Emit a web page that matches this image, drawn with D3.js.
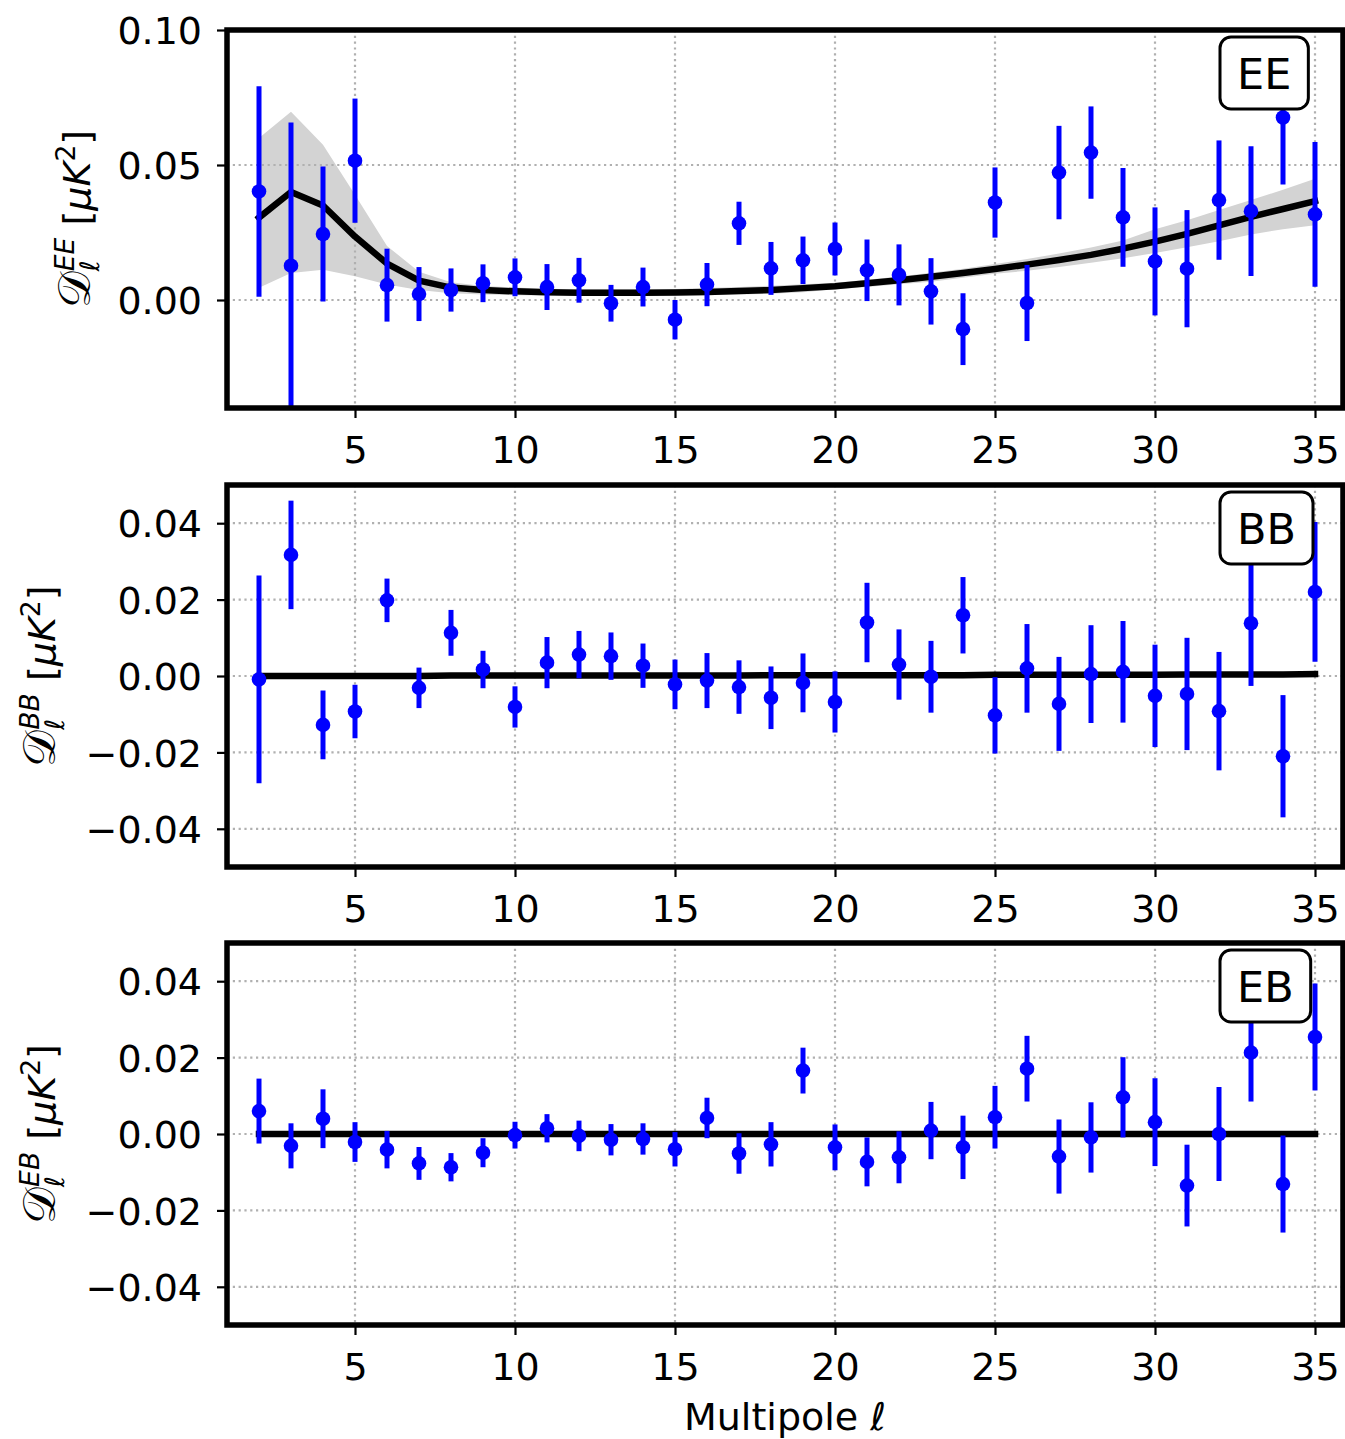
<!DOCTYPE html>
<html>
<head>
<meta charset="utf-8">
<script src="https://cdn.jsdelivr.net/npm/d3@7"></script>
<style>
  body { margin: 0; background: #fff; }
  svg { display: block; font-family: "DejaVu Sans", sans-serif; }
</style>
</head>
<body>
<div id="chart"></div>
<script>
// Multipole values
const ell = [2, 3, 4, 5, 6, 7, 8, 9, 10, 11, 12, 13, 14, 15, 16, 17, 18,
  19, 20, 21, 22, 23, 24, 25, 26, 27, 28, 29, 30, 31, 32, 33, 34, 35];

// EE measurements
const eeVal = [0.0402, 0.0127, 0.0244, 0.0516, 0.0055, 0.0022, 0.0037, 0.0062, 0.0084, 0.0048, 0.0073, -0.0012, 0.0048, -0.0073, 0.0057, 0.0284, 0.0117,
  0.0147, 0.0189, 0.0110, 0.0093, 0.0032, -0.0108, 0.0361, -0.0011, 0.0472, 0.0546, 0.0306, 0.0143, 0.0116, 0.0370, 0.0329, 0.0676, 0.0317];
const eeErr = [0.039, 0.053, 0.025, 0.023, 0.0135, 0.010, 0.008, 0.007, 0.007, 0.0085, 0.0083, 0.0068, 0.0072, 0.0073, 0.008, 0.008, 0.0098,
  0.0088, 0.0098, 0.0114, 0.0113, 0.0123, 0.0133, 0.013, 0.0141, 0.0173, 0.0171, 0.0183, 0.020, 0.0217, 0.0221, 0.024, 0.0248, 0.0268];
// EE model and its spread
const eeModel = [0.0305, 0.0400, 0.0350, 0.0235, 0.0135, 0.0072, 0.0046, 0.0037, 0.0032, 0.0029, 0.0027, 0.0027, 0.0027, 0.0028, 0.0030, 0.0033, 0.0037,
  0.0044, 0.0051, 0.0062, 0.0073, 0.0086, 0.0100, 0.0115, 0.0131, 0.0148, 0.0167, 0.0190, 0.0216, 0.0245, 0.0276, 0.0308, 0.0337, 0.0366];
const eeHigh = [0.060, 0.0697, 0.0575, 0.039, 0.020, 0.0105, 0.0066, 0.0052, 0.0046, 0.0042, 0.0040, 0.0040, 0.0040, 0.0041, 0.0044, 0.0048, 0.0053,
  0.0058, 0.0064, 0.0075, 0.0087, 0.0101, 0.0116, 0.0133, 0.0152, 0.0172, 0.0194, 0.0220, 0.0262, 0.0295, 0.0333, 0.0370, 0.0408, 0.0449];
const eeLow = [0.0045, 0.010, 0.0112, 0.0088, 0.0057, 0.0037, 0.0025, 0.0020, 0.0018, 0.0017, 0.0016, 0.0016, 0.0016, 0.0017, 0.0018, 0.0020, 0.0023,
  0.0029, 0.0040, 0.0048, 0.0058, 0.0068, 0.0082, 0.0097, 0.0108, 0.0122, 0.0138, 0.0155, 0.0174, 0.0195, 0.0218, 0.0243, 0.0262, 0.0277];

// BB measurements
const bbVal = [-0.0009, 0.0317, -0.0128, -0.0093, 0.0198, -0.0031, 0.0113, 0.0017, -0.0081, 0.0035, 0.0056, 0.0052, 0.0027, -0.0022, -0.0012, -0.0029, -0.0057,
  -0.0018, -0.0068, 0.0140, 0.0030, -0.0002, 0.0159, -0.0103, 0.0020, -0.0073, 0.0005, 0.0011, -0.0052, -0.0047, -0.0092, 0.0138, -0.0210, 0.0220];
const bbErr = [0.0272, 0.0142, 0.009, 0.007, 0.0057, 0.0053, 0.006, 0.0049, 0.0054, 0.0067, 0.0062, 0.0062, 0.0058, 0.0065, 0.0072, 0.007, 0.0082,
  0.0077, 0.008, 0.0104, 0.0092, 0.0094, 0.010, 0.010, 0.0116, 0.0123, 0.0128, 0.0133, 0.0134, 0.0147, 0.0155, 0.0164, 0.016, 0.0183];
const bbModel = [0.0000, 0.0000, 0.0000, 0.0000, 0.0000, 0.0000, 0.0001, 0.0001, 0.0001, 0.0001, 0.0001, 0.0001, 0.0001, 0.0001, 0.0001, 0.0001, 0.0002,
  0.0002, 0.0002, 0.0002, 0.0002, 0.0002, 0.0002, 0.0003, 0.0003, 0.0003, 0.0003, 0.0003, 0.0003, 0.0004, 0.0004, 0.0004, 0.0004, 0.0005];

// EB measurements
const ebVal = [0.0060, -0.0031, 0.0040, -0.0021, -0.0041, -0.0077, -0.0087, -0.0049, -0.0003, 0.0015, -0.0005, -0.0015, -0.0013, -0.0040, 0.0042, -0.0051, -0.0027,
  0.0166, -0.0035, -0.0073, -0.0061, 0.0009, -0.0035, 0.0044, 0.0171, -0.0059, -0.0009, 0.0096, 0.0031, -0.0135, 0.0000, 0.0213, -0.0131, 0.0254];
const ebErr = [0.0085, 0.0059, 0.0077, 0.0052, 0.0049, 0.0043, 0.0037, 0.0038, 0.0035, 0.0037, 0.004, 0.0041, 0.0041, 0.0045, 0.0053, 0.0053, 0.0058,
  0.006, 0.006, 0.0064, 0.0068, 0.0075, 0.0083, 0.0082, 0.0086, 0.0097, 0.0092, 0.0105, 0.0115, 0.0107, 0.0123, 0.0128, 0.0127, 0.014];
const ebModel = [0, 0, 0, 0, 0, 0, 0, 0, 0, 0, 0, 0, 0, 0, 0, 0, 0,
  0, 0, 0, 0, 0, 0, 0, 0, 0, 0, 0, 0, 0, 0, 0, 0, 0];

const xTicks = [5, 10, 15, 20, 25, 30, 35];
const eeTicks = [0.00, 0.05, 0.10];
const pmTicks = [-0.04, -0.02, 0.00, 0.02, 0.04];

const width = 1345, height = 1439;
const left = 227, right = 1343;

const panels = [
  { key: 'EE', top: 30, bottom: 408, domain: [-0.04, 0.10], ticks: eeTicks, vals: eeVal, errs: eeErr, model: eeModel, low: eeLow, high: eeHigh, labelX: 90 },
  { key: 'BB', top: 485, bottom: 867, domain: [-0.05, 0.05], ticks: pmTicks, vals: bbVal, errs: bbErr, model: bbModel, labelX: 55 },
  { key: 'EB', top: 943, bottom: 1325, domain: [-0.05, 0.05], ticks: pmTicks, vals: ebVal, errs: ebErr, model: ebModel, labelX: 55 }
];

const svg = d3.select('#chart').append('svg')
  .attr('width', width)
  .attr('height', height);

const x = d3.scaleLinear().domain([1, 35.875]).range([left, right]);
const fmt = d3.format('.2f');

panels.forEach((p, i) => {
  const y = d3.scaleLinear().domain(p.domain).range([p.bottom, p.top]);
  const g = svg.append('g');

  svg.append('clipPath').attr('id', 'clip' + i)
    .append('rect')
    .attr('x', left).attr('y', p.top)
    .attr('width', right - left).attr('height', p.bottom - p.top);

  const plot = g.append('g').attr('clip-path', `url(#clip${i})`);

  // shaded spread of the model
  if (p.low) {
    plot.append('path')
      .datum(ell)
      .attr('fill', '#d3d3d3')
      .attr('d', d3.area()
        .x(d => x(d))
        .y0((d, j) => y(p.low[j]))
        .y1((d, j) => y(p.high[j])));
  }

  // dotted grid
  plot.selectAll('line.gx')
    .data(xTicks)
    .enter()
    .append('line')
    .attr('x1', d => x(d)).attr('x2', d => x(d))
    .attr('y1', p.top).attr('y2', p.bottom)
    .attr('stroke', '#b0b0b0').attr('stroke-width', 2.2)
    .attr('stroke-dasharray', '2.2,3.6');
  plot.selectAll('line.gy')
    .data(p.ticks)
    .enter()
    .append('line')
    .attr('x1', left).attr('x2', right)
    .attr('y1', d => y(d)).attr('y2', d => y(d))
    .attr('stroke', '#b0b0b0').attr('stroke-width', 2.2)
    .attr('stroke-dasharray', '2.2,3.6');

  // model curve
  plot.append('path')
    .datum(ell)
    .attr('fill', 'none')
    .attr('stroke', '#000')
    .attr('stroke-width', 6.5)
    .attr('stroke-linejoin', 'round')
    .attr('stroke-linecap', 'square')
    .attr('d', d3.line()
      .x(d => x(d))
      .y((d, j) => y(p.model[j])));

  // error bars and points
  plot.selectAll('line.err')
    .data(ell)
    .enter()
    .append('line')
    .attr('x1', d => x(d)).attr('x2', d => x(d))
    .attr('y1', (d, j) => y(p.vals[j] - p.errs[j]))
    .attr('y2', (d, j) => y(p.vals[j] + p.errs[j]))
    .attr('stroke', '#0000ff')
    .attr('stroke-width', 5);
  plot.selectAll('circle.pt')
    .data(ell)
    .enter()
    .append('circle')
    .attr('cx', d => x(d))
    .attr('cy', (d, j) => y(p.vals[j]))
    .attr('r', 7.3)
    .attr('fill', '#0000ff');

  // axes
  const ax = g.append('g')
    .attr('transform', `translate(0,${p.bottom})`)
    .call(d3.axisBottom(x).tickValues(xTicks).tickSize(10));
  ax.selectAll('text').attr('y', 55).attr('dy', null);

  const ay = g.append('g')
    .attr('transform', `translate(${left},0)`)
    .call(d3.axisLeft(y).tickValues(p.ticks).tickSize(10).tickPadding(15).tickFormat(fmt));
  ay.selectAll('text').attr('dy', '0.36em');

  [ax, ay].forEach(a => {
    a.select('.domain').remove();
    a.selectAll('line').attr('stroke', '#000').attr('stroke-width', 2.2);
    a.selectAll('text').attr('fill', '#000')
      .style('font-size', '38px')
      .style('font-family', '"DejaVu Sans", sans-serif');
  });

  // frame
  g.append('rect')
    .attr('x', left).attr('y', p.top)
    .attr('width', right - left).attr('height', p.bottom - p.top)
    .attr('fill', 'none')
    .attr('stroke', '#000')
    .attr('stroke-width', 5.5);

  // panel tag in a rounded box
  const boxY = p.top + 7;
  const box = g.append('rect')
    .attr('x', 1220).attr('y', boxY)
    .attr('height', 72).attr('rx', 11)
    .attr('fill', '#fff').attr('stroke', '#000').attr('stroke-width', 3);
  const tag = g.append('text')
    .attr('x', 1237).attr('y', boxY + 36 + 15.5)
    .style('font-size', '43px')
    .text(p.key);
  box.attr('width', tag.node().getComputedTextLength() + 34);

  // y label: D_l^{XY} [muK^2]
  const cy = (p.top + p.bottom) / 2;
  const lab = g.append('text')
    .attr('transform', `translate(${p.labelX},${cy}) rotate(-90)`)
    .style('font-size', '38px');
  lab.append('tspan').style('font-size', '46px').text('𝒟');
  const sub = lab.append('tspan').style('font-size', '26.6px').style('font-style', 'italic')
    .attr('dy', 9).text('ℓ');
  const subW = sub.node().getComputedTextLength();
  lab.append('tspan').style('font-size', '26.6px').style('font-style', 'italic')
    .attr('dx', -subW).attr('dy', -25).text(p.key);
  lab.append('tspan').attr('dy', 16).text('\u00a0[');
  lab.append('tspan').style('font-style', 'italic').text('μK');
  lab.append('tspan').style('font-size', '26.6px').attr('dy', -15).text('2');
  lab.append('tspan').attr('dy', 15).text(']');
  const w = lab.node().getBBox().width;
  lab.attr('x', -w / 2);
});

// shared x label
const xl = svg.append('text')
  .attr('x', (left + right) / 2)
  .attr('y', 1430)
  .attr('text-anchor', 'middle')
  .style('font-size', '38px');
xl.append('tspan').text('Multipole ');
xl.append('tspan').style('font-style', 'italic').text('ℓ');
</script>
</body>
</html>
